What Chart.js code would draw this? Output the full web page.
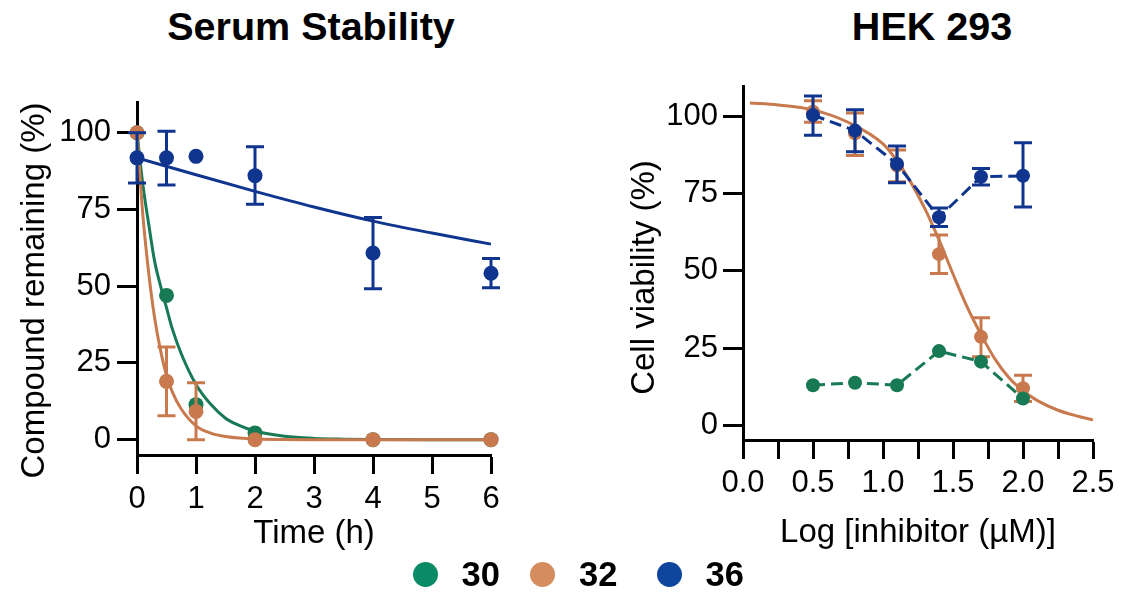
<!DOCTYPE html>
<html>
<head>
<meta charset="utf-8">
<script src="https://cdn.jsdelivr.net/npm/chart.js@4.4.1/dist/chart.umd.min.js"></script>
<style>
  body { margin: 0; background: #fff; width: 1129px; height: 593px; overflow: hidden; position: relative; font-family: "Liberation Sans", Arial, sans-serif; }
  canvas { position: absolute; top: 0; }
  .title { position: absolute; top: 7px; width: 400px; text-align: center; font: bold 39.5px/39.5px "Liberation Sans", Arial, sans-serif; color: #000; }
  .item { position: absolute; top: 558px; height: 33px; display: flex; align-items: center; }
  .item .dot { width: 25px; height: 25px; border-radius: 50%; margin-right: 24px; }
  .item .lab { font: bold 34.5px/33px "Liberation Sans", Arial, sans-serif; color: #000; }
</style>
</head>
<body>
<div class="title" style="left:111px">Serum Stability</div>
<div class="title" style="left:732px">HEK 293</div>
<canvas id="serum" width="560" height="560" style="left:0"></canvas>
<canvas id="hek" width="569" height="560" style="left:560px"></canvas>
<div id="legend"></div>
<script>
// compounds
const compounds = ['30', '32', '36'];
const plotColors = ['#177a55', '#c87a4e', '#0f358f'];
const legendColors = ['#0b8a66', '#d58c5f', '#0e469e'];
const legendLeft = [412.5, 530, 656.5];

// Serum stability, time in hours
const serumTime = [0, 0.5, 1, 2, 4, 6];
const serum30 = [100, 47, 11.4, 2.2, 0, 0];
const serum32 = [100, 19, 9.2, 0, 0, 0];
const serum32Lo = [null, 7.8, 0, null, null, null];
const serum32Hi = [null, 30.2, 18.5, null, null, null];
const serum36 = [91.8, 91.8, 92.3, 86, 60.8, 54.2];
const serum36Lo = [83.6, 83, null, 76.7, 49.2, 49.5];
const serum36Hi = [100, 100.5, null, 95.4, 72.4, 59];

// fitted decay curves
const fitTime30 = [0, 0.1, 0.2, 0.3, 0.4, 0.5, 0.6, 0.75, 1, 1.25, 1.5, 1.75, 2, 2.5, 3, 3.5, 4, 5, 6];
const fit30 = [100, 83, 70, 58, 50, 43, 36, 28, 18, 11.5, 7, 4.5, 2.8, 1.1, 0.4, 0.15, 0.05, 0, 0];
const fitTime32 = [0, 0.05, 0.1, 0.2, 0.3, 0.4, 0.5, 0.6, 0.75, 1, 1.25, 1.5, 2, 3, 4, 6];
const fit32 = [100, 86, 73, 54, 39.5, 29, 21, 15.5, 10, 4.5, 2.1, 1, 0.2, 0, 0, 0];
const fitTime36 = [0, 1, 2, 3, 4, 5, 6];
const fit36 = [91.8, 86.3, 80.9, 75.8, 71.2, 67.3, 63.7];

const serumXTicks = [0, 1, 2, 3, 4, 5, 6];
const percentTicks = [0, 25, 50, 75, 100];

// HEK 293 viability, log [inhibitor (µM)]
const logConc = [0.5, 0.8, 1.1, 1.4, 1.7, 2.0];
const hek30 = [13.1, 13.9, 13.1, 24.1, 20.7, 8.8];
const hek32 = [101.4, 94.4, 84, 55.4, 28.7, 12.1];
const hek32Lo = [98, 87.3, 78.8, 49.2, 22.3, 7.8];
const hek32Hi = [104.9, 101, 89, 61.6, 34.9, 16.3];
const hek36 = [100.3, 95.3, 84.5, 67.3, 80.4, 80.7];
const hek36Lo = [93.8, 88.5, 78.5, 64.3, 77.7, 70.6];
const hek36Hi = [106.5, 102, 90.3, 70.3, 83.1, 91.4];
const fitLog32 = [0.05, 0.25, 0.5, 0.75, 1.0, 1.1, 1.2, 1.3, 1.4, 1.5, 1.6, 1.7, 1.8, 1.9, 2.0, 2.1, 2.25, 2.4, 2.5];
const fitHek32 = [104.2, 103.6, 102, 98, 91, 85.5, 78.5, 70, 60, 49, 38.5, 29.5, 21.5, 15.5, 11.3, 8.2, 5, 3, 1.9];
const hekXTicks = [0, 0.25, 0.5, 0.75, 1, 1.25, 1.5, 1.75, 2, 2.25, 2.5];

Chart.defaults.font.family = '"Liberation Sans", Arial, sans-serif';
Chart.defaults.color = '#000';

function pts(xs, ys) {
  return xs.map((x, i) => ({ x: x, y: ys[i] }));
}

// legend
const legend = document.getElementById('legend');
compounds.forEach((name, i) => {
  const item = document.createElement('div');
  item.className = 'item';
  item.style.left = legendLeft[i] + 'px';
  const d = document.createElement('span');
  d.className = 'dot';
  d.style.background = legendColors[i];
  const t = document.createElement('span');
  t.className = 'lab';
  t.textContent = name;
  item.appendChild(d);
  item.appendChild(t);
  legend.appendChild(item);
});

// vertical error bars, drawn just before each dataset so its dots sit on top
const errorBars = {
  id: 'errorBars',
  beforeDatasetDraw(chart, args) {
    const ds = chart.data.datasets[args.index];
    if (!ds.errLo) return;
    const ctx = chart.ctx;
    const xs = chart.scales.x, ys = chart.scales.y;
    const cap = 9;
    ctx.save();
    ctx.strokeStyle = ds.borderColor;
    ctx.lineWidth = 3;
    ds.data.forEach((p, i) => {
      if (ds.errLo[i] == null) return;
      const px = xs.getPixelForValue(p.x);
      const y1 = ys.getPixelForValue(ds.errLo[i]);
      const y2 = ys.getPixelForValue(ds.errHi[i]);
      ctx.beginPath();
      ctx.moveTo(px, y1); ctx.lineTo(px, y2);
      ctx.moveTo(px - cap, y1); ctx.lineTo(px + cap, y1);
      ctx.moveTo(px - cap, y2); ctx.lineTo(px + cap, y2);
      ctx.stroke();
    });
    ctx.restore();
  }
};

// rotated y title, placed like the original figure
const yTitle = {
  id: 'yTitle',
  afterDraw(chart, args, opts) {
    const ctx = chart.ctx;
    ctx.save();
    ctx.translate(opts.x, opts.y);
    ctx.rotate(-Math.PI / 2);
    ctx.font = '33px "Liberation Sans", Arial, sans-serif';
    ctx.fillStyle = '#000';
    ctx.textAlign = 'center';
    ctx.textBaseline = 'alphabetic';
    ctx.fillText(opts.text, 0, 0);
    ctx.restore();
  }
};

function axisX(min, max, tickVals, height, title, pad, labelFn) {
  return {
    type: 'linear', min: min, max: max,
    afterBuildTicks: s => { s.ticks = tickVals.map(v => ({ value: v })); },
    afterFit: s => { s.height = height; },
    grid: { drawOnChartArea: false, tickLength: 19, tickWidth: 3, tickColor: '#000' },
    border: { color: '#000', width: 3 },
    ticks: { color: '#000', font: { size: 31 }, padding: pad, maxRotation: 0, autoSkip: false, callback: labelFn },
    title: { display: true, text: title, color: '#000', font: { size: 33 }, padding: 0 }
  };
}

function axisY(min, max, width, pad) {
  return {
    type: 'linear', min: min, max: max,
    afterBuildTicks: s => { s.ticks = percentTicks.map(v => ({ value: v })); },
    afterFit: s => { s.width = width; },
    grid: { drawOnChartArea: false, tickLength: 20, tickWidth: 3, tickColor: '#000' },
    border: { color: '#000', width: 3 },
    ticks: { color: '#000', font: { size: 31 }, padding: pad }
  };
}

function dots(data, color, r) {
  return { data: data, showLine: false, backgroundColor: color, borderColor: color, pointRadius: r, pointBorderWidth: 0, clip: false };
}

function curve(data, color) {
  return { data: data, showLine: true, borderColor: color, borderWidth: 3, pointRadius: 0, cubicInterpolationMode: 'monotone', clip: false };
}

new Chart(document.getElementById('serum'), {
  type: 'scatter',
  data: {
    datasets: [
      Object.assign(dots(pts(serumTime, serum36), plotColors[2], 7.5), { errLo: serum36Lo, errHi: serum36Hi }),
      curve(pts(fitTime36, fit36), plotColors[2]),
      Object.assign(dots(pts(serumTime, serum32), plotColors[1], 7.5), { errLo: serum32Lo, errHi: serum32Hi }),
      curve(pts(fitTime32, fit32), plotColors[1]),
      dots(pts(serumTime, serum30), plotColors[0], 7.5),
      curve(pts(fitTime30, fit30), plotColors[0])
    ]
  },
  options: {
    responsive: false,
    animation: false,
    events: [],
    layout: { padding: { left: 0, right: 69, top: 102, bottom: 6 } },
    plugins: {
      legend: { display: false },
      tooltip: { enabled: false },
      yTitle: { text: 'Compound remaining (%)', x: 43.5, y: 290.5 }
    },
    scales: {
      x: axisX(0, 6, serumXTicks, 99, 'Time (h)', 7),
      y: axisY(-5, 110, 137, 6)
    }
  },
  plugins: [errorBars, yTitle]
});

new Chart(document.getElementById('hek'), {
  type: 'scatter',
  data: {
    datasets: [
      Object.assign(dots(pts(logConc, hek36), plotColors[2], 7), {
        showLine: true, borderWidth: 3, borderDash: [12, 6], errLo: hek36Lo, errHi: hek36Hi
      }),
      Object.assign(dots(pts(logConc, hek30), plotColors[0], 7), { showLine: true, borderWidth: 3, borderDash: [12, 6] }),
      Object.assign(dots(pts(logConc, hek32), plotColors[1], 7), { errLo: hek32Lo, errHi: hek32Hi }),
      curve(pts(fitLog32, fitHek32), plotColors[1])
    ]
  },
  options: {
    responsive: false,
    animation: false,
    events: [],
    layout: { padding: { left: 0, right: 36, top: 86, bottom: 7 } },
    plugins: {
      legend: { display: false },
      tooltip: { enabled: false },
      yTitle: { text: 'Cell viability (%)', x: 93.5, y: 277.5 }
    },
    scales: {
      x: axisX(0, 2.5, hekXTicks, 113, 'Log [inhibitor (µM)]', 6,
        v => (Math.round(v * 100) % 50 === 0 ? v.toFixed(1) : '')),
      y: axisY(-4.6, 109.7, 183, 5)
    }
  },
  plugins: [errorBars, yTitle]
});
</script>
</body>
</html>
